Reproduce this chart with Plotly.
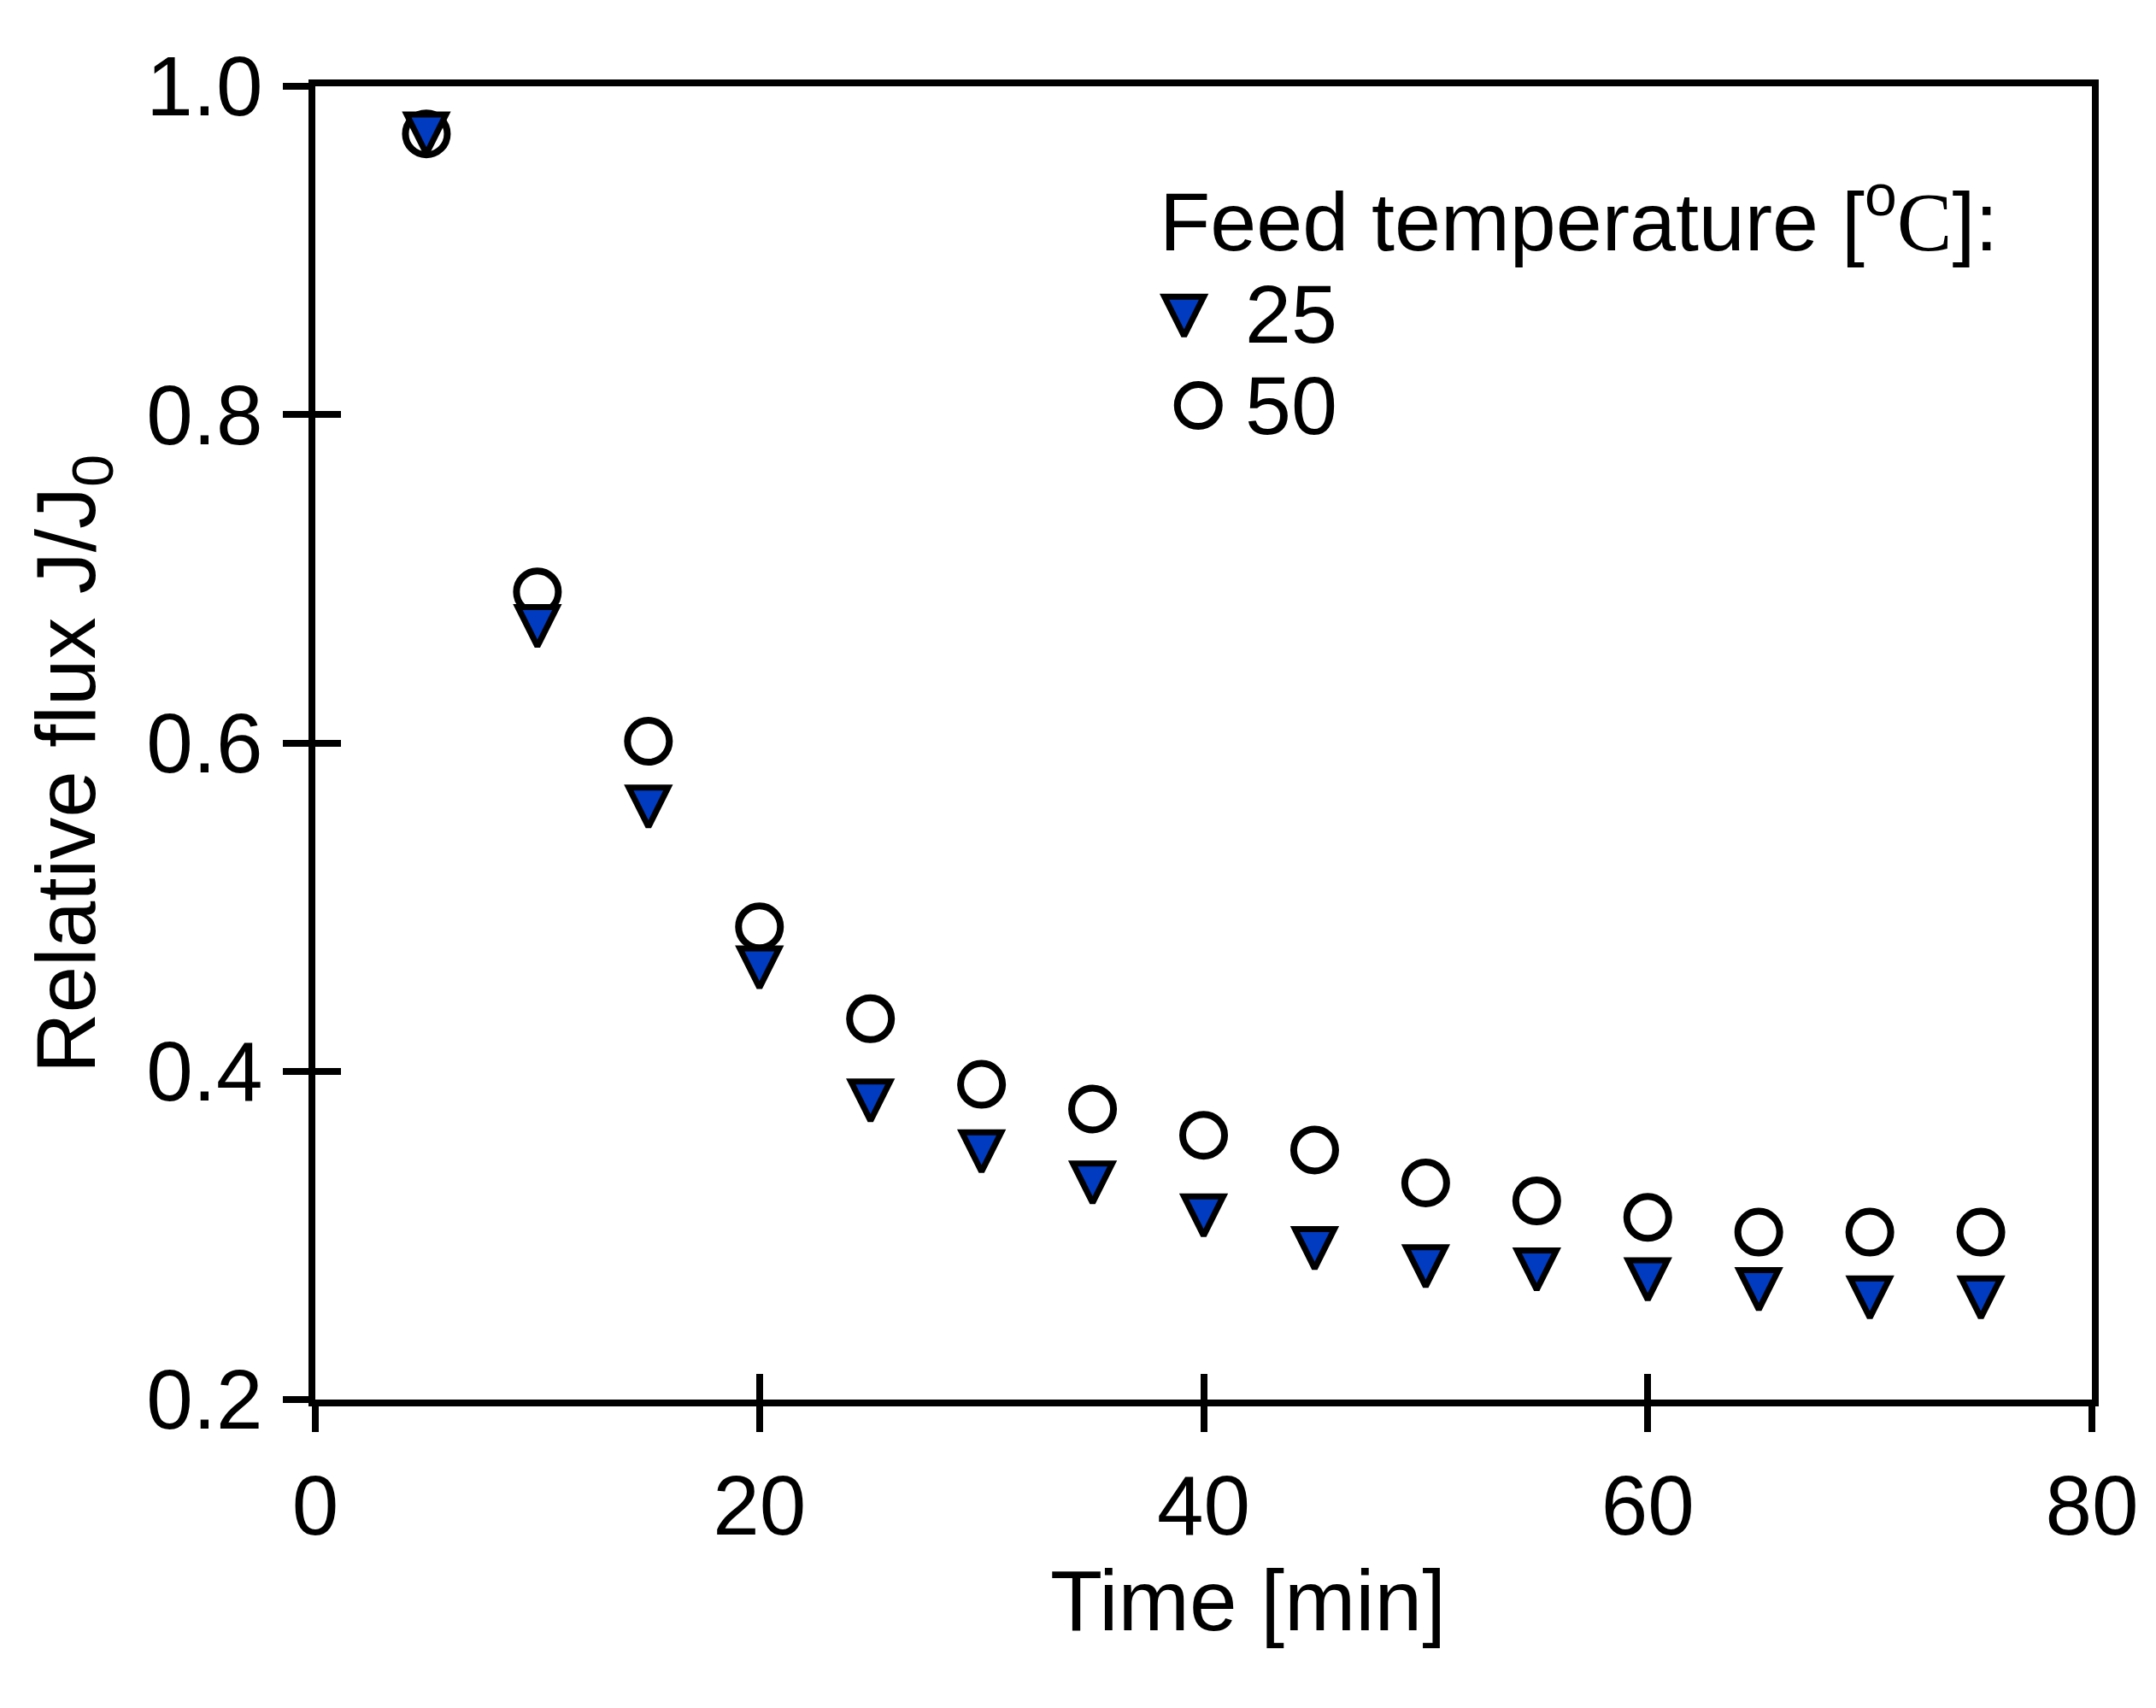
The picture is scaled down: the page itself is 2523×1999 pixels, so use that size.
import plotly.graph_objects as go

# data
time_min = [5, 10, 15, 20, 25, 30, 35, 40, 45, 50, 55, 60, 65, 70, 75]
flux_25 = [0.975, 0.675, 0.565, 0.467, 0.386, 0.355, 0.336, 0.316, 0.296,
           0.285, 0.283, 0.277, 0.271, 0.266, 0.266]
flux_50 = [0.971, 0.692, 0.601, 0.488, 0.432, 0.392, 0.377, 0.361, 0.352,
           0.332, 0.321, 0.311, 0.302, 0.302, 0.302]
series_names = ["25", "50"]
legend_title = "Feed temperature [<sup>o</sup><span style=\"font-family:'Liberation Serif'\">C</span>]:"
x_title = "Time [min]"
y_title = "Relative flux J/J<sub>0</sub>"

x_ticks = [0, 20, 40, 60, 80]
y_ticks = [0.2, 0.4, 0.6, 0.8, 1.0]

FONT = "Liberation Sans, Arial, sans-serif"
BLUE = "#003BC0"

# down-pointing triangle: arrow symbol pushed down so its centroid sits on the point
TRI_SIZE = 46
tri_marker = dict(symbol="arrow-down", size=TRI_SIZE, standoff=round(TRI_SIZE * 2 / 3),
                  color=BLUE, line=dict(color="black", width=7))
circ_marker = dict(symbol="circle", size=49, color="white",
                   line=dict(color="black", width=8))

fig = go.Figure()

# 50 C: open circles (below the triangles)
fig.add_trace(go.Scatter(
    x=time_min, y=flux_50, mode="markers", name=series_names[1],
    marker=circ_marker, showlegend=False,
))

# 25 C: filled triangles, on the overlay axes that carry the inner tick halves
fig.add_trace(go.Scatter(
    x=time_min, y=flux_25, mode="markers", name=series_names[0],
    xaxis="x2", yaxis="y2", marker=tri_marker, showlegend=False,
))

# legend keys in a 0-1 frame over the plot area
fig.add_trace(go.Scatter(
    x=[0.489], y=[0.830], mode="markers", xaxis="x3", yaxis="y3",
    marker=tri_marker, showlegend=False, hoverinfo="skip",
))
fig.add_trace(go.Scatter(
    x=[0.497], y=[0.757], mode="markers", xaxis="x3", yaxis="y3",
    marker=circ_marker, showlegend=False, hoverinfo="skip",
))

axis_common = dict(
    showgrid=False, zeroline=False, ticklen=30, tickwidth=8, tickcolor="black",
)

fig.update_layout(
    width=2523, height=1999,
    margin=dict(l=361, r=83, t=93, b=369),
    paper_bgcolor="white", plot_bgcolor="white",
    font=dict(family=FONT, size=98, color="black"),
    showlegend=False,
    xaxis=dict(
        range=[0, 80], tickvals=x_ticks, ticks="outside",
        showline=True, linewidth=8, linecolor="black", mirror=True,
        tickfont=dict(size=98), ticklabelstandoff=2,
        **axis_common,
    ),
    yaxis=dict(
        range=[0.2, 1.0], tickvals=y_ticks, tickformat=".1f", ticks="outside",
        showline=True, linewidth=8, linecolor="black", mirror=True,
        tickfont=dict(size=98), ticklabelstandoff=4,
        **axis_common,
    ),
    xaxis2=dict(
        range=[0, 80], tickvals=x_ticks, ticks="inside", overlaying="x",
        anchor="y2", side="bottom", showline=False, showticklabels=False,
        **axis_common,
    ),
    yaxis2=dict(
        range=[0.2, 1.0], tickvals=y_ticks, ticks="inside", overlaying="y",
        anchor="x2", side="left", showline=False, showticklabels=False,
        **axis_common,
    ),
    xaxis3=dict(range=[0, 1], overlaying="x", anchor="y3", visible=False),
    yaxis3=dict(range=[0, 1], overlaying="y", anchor="x3", visible=False),
)

# axis titles
fig.add_annotation(x=0.525, y=-0.153, xref="paper", yref="paper",
                   text=x_title, showarrow=False,
                   xanchor="center", yanchor="middle", font=dict(size=100))
fig.add_annotation(x=-0.137, y=0.484, xref="paper", yref="paper",
                   text=y_title, showarrow=False, textangle=-90,
                   xanchor="center", yanchor="middle", font=dict(size=98))

# legend text
fig.add_annotation(x=0.4745, y=0.9016, xref="paper", yref="paper",
                   text=legend_title, showarrow=False,
                   xanchor="left", yanchor="middle", font=dict(size=97))
fig.add_annotation(x=0.5225, y=0.8264, xref="paper", yref="paper",
                   text=series_names[0], showarrow=False,
                   xanchor="left", yanchor="middle", font=dict(size=97))
fig.add_annotation(x=0.5225, y=0.7571, xref="paper", yref="paper",
                   text=series_names[1], showarrow=False,
                   xanchor="left", yanchor="middle", font=dict(size=97))

fig.write_html("out.html")
